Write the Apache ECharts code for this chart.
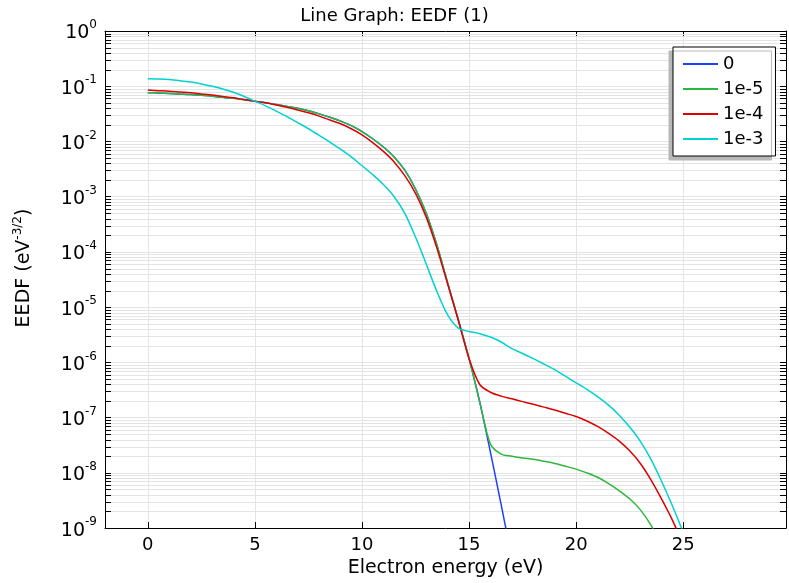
<!DOCTYPE html>
<html><head><meta charset="utf-8">
<script src="https://cdn.jsdelivr.net/npm/echarts@6/dist/echarts.min.js"></script>
<style>html,body{margin:0;padding:0;background:#fff}#c{width:789px;height:583px}</style>
</head><body><div id="c"></div>
<script>
// ---- data ----
const seriesNames = ['0', '1e-5', '1e-4', '1e-3'];
const seriesColors = ['#1f3fff', '#2db83d', '#dd0000', '#00d2d2'];

// shared energy grid (eV); each series uses as many points as it has values
const energy = [0,0.5,1,1.5,2,2.5,3,3.5,4,4.5,5,5.5,6,6.5,7,7.5,8,8.5,9,9.5,10,10.5,11,11.5,12,12.5,13,13.5,14,14.5,15,15.5,16,16.5,17,17.5,18,18.5,19,19.5,20,20.5,21,21.5,22,22.5,23,23.5,24,24.5,25,25.5];

const eedf0 = [0.0764,0.0755,0.0741,0.0724,0.0708,0.0684,0.0661,0.0631,0.0603,0.0569,0.0537,0.0501,0.0468,0.0432,0.0398,0.0359,0.0316,0.0275,0.0234,0.0193,0.0151,0.0112,7.94e-3,5.25e-3,3.02e-3,1.38e-3,5.01e-4,1.32e-4,2.75e-5,5.89e-6,1.17e-6,1.91e-7,2.34e-8,2.63e-9,2.82e-10];

const eedf1 = [0.0764,0.0755,0.0741,0.0724,0.0708,0.0684,0.0661,0.0631,0.0603,0.0569,0.0537,0.0501,0.0468,0.0432,0.0398,0.0359,0.0316,0.0275,0.0234,0.0193,0.0151,0.0112,7.94e-3,5.25e-3,3.02e-3,1.38e-3,5.01e-4,1.32e-4,2.75e-5,5.89e-6,1.17e-6,1.91e-7,3.31e-8,2.19e-8,2.00e-8,1.86e-8,1.76e-8,1.62e-8,1.48e-8,1.32e-8,1.17e-8,1.00e-8,8.32e-9,6.46e-9,4.79e-9,3.39e-9,2.14e-9,1.12e-9,4.47e-10];

const eedf2 = [0.0851,0.0832,0.0813,0.0785,0.0759,0.0724,0.0692,0.0653,0.0617,0.0575,0.0537,0.0501,0.0457,0.0417,0.0372,0.0331,0.0288,0.0245,0.0209,0.0170,0.0132,9.55e-3,6.61e-3,4.27e-3,2.40e-3,1.15e-3,4.27e-4,1.17e-4,2.63e-5,5.75e-6,1.17e-6,3.98e-7,2.88e-7,2.45e-7,2.19e-7,1.95e-7,1.74e-7,1.55e-7,1.38e-7,1.20e-7,1.05e-7,8.71e-8,6.92e-8,5.25e-8,3.80e-8,2.51e-8,1.48e-8,7.41e-9,3.31e-9,1.38e-9,5.01e-10];

const eedf3 = [0.136,0.135,0.132,0.126,0.119,0.110,0.100,0.0891,0.0776,0.0653,0.0537,0.0442,0.0355,0.0282,0.0219,0.0170,0.0129,9.77e-3,7.24e-3,5.25e-3,3.63e-3,2.51e-3,1.66e-3,1.00e-3,5.01e-4,1.86e-4,6.03e-5,1.91e-5,7.24e-6,4.17e-6,3.63e-6,3.31e-6,2.88e-6,2.34e-6,1.78e-6,1.45e-6,1.17e-6,9.33e-7,7.41e-7,5.62e-7,4.27e-7,3.24e-7,2.40e-7,1.70e-7,1.12e-7,6.76e-8,3.72e-8,1.74e-8,6.92e-9,2.51e-9,8.32e-10,2.51e-10];

const xTickLabels = ['0', '5', '10', '15', '20', '25'];
const yDecadeExponents = [0,-1,-2,-3,-4,-5,-6,-7,-8,-9];

const titleText = 'Line Graph: EEDF (1)';
const xName = 'Electron energy (eV)';

// ---- chart ----
const xMin = -2, xMax = 29.8, yMin = 1e-9, yMax = 1;
const FONT = 'DejaVu Sans';

const eedfs = [eedf0, eedf1, eedf2, eedf3];

// minor log gridline positions (2..9 x 10^n)
const minorVals = [];
for (let n = -9; n < 0; n++) for (let k = 2; k <= 9; k++) minorVals.push([xMin, k * Math.pow(10, n)]);

const chart = echarts.init(document.getElementById('c'), null, {renderer: 'canvas'});

const lineSeries = seriesNames.map((name, i) => ({
  name: name,
  type: 'line',
  data: eedfs[i].map((v, j) => [energy[j], v]),
  showSymbol: false,
  smooth: 0.3,
  lineStyle: {color: seriesColors[i], width: 1.5},
  itemStyle: {color: seriesColors[i]},
  z: 3,
  clip: true
}));

const minorSeries = {
  type: 'custom',
  silent: true,
  z: 1,
  clip: false,
  data: minorVals,
  renderItem: function (params, api) {
    const v = api.value(1);
    const p0 = api.coord([xMin, v]);
    const p1 = api.coord([xMax, v]);
    const y = Math.round(p0[1]) + 0.5;
    return {
      type: 'group',
      children: [
        {type: 'line', shape: {x1: p0[0], y1: y, x2: p1[0], y2: y}, style: {stroke: '#e4e4e4', lineWidth: 1}},
        {type: 'line', shape: {x1: p0[0], y1: y, x2: p0[0] + 6, y2: y}, style: {stroke: '#000', lineWidth: 1}},
        {type: 'line', shape: {x1: p1[0] - 6, y1: y, x2: p1[0], y2: y}, style: {stroke: '#000', lineWidth: 1}}
      ]
    };
  }
};

const option = {
  backgroundColor: '#fff',
  animation: false,
  title: {
    text: titleText, left: 'center', top: 7, padding: 0,
    textStyle: {fontFamily: FONT, fontSize: 18, fontWeight: 'normal', color: '#000'}
  },
  grid: {left: 105, right: 1, top: 31, bottom: 50, containLabel: false},
  legend: {
    data: seriesNames, orient: 'vertical', left: 673, top: 47,
    icon: 'rect', itemWidth: 35, itemHeight: 2, itemGap: 7,
    padding: [8, 12, 8, 10],
    backgroundColor: '#fff', borderColor: '#000', borderWidth: 1,
    shadowColor: '#b8b8b8', shadowBlur: 0, shadowOffsetX: -4, shadowOffsetY: 4,
    textStyle: {fontFamily: FONT, fontSize: 18, color: '#000', lineHeight: 18}
  },
  xAxis: [{
    type: 'value', min: xMin, max: xMax, position: 'bottom',
    name: xName, nameLocation: 'middle', nameGap: 25,
    nameTextStyle: {fontFamily: FONT, fontSize: 19, color: '#000'},
    axisLine: {show: true, onZero: false, lineStyle: {color: '#000', width: 1}},
    axisTick: {show: true, inside: true, length: 6, lineStyle: {color: '#000'}},
    axisLabel: {
      fontFamily: FONT, fontSize: 18, color: '#000', margin: 8,
      formatter: function (v) { const s = String(Math.round(v)); return (Math.abs(v % 5) < 1e-9 && xTickLabels.indexOf(s) >= 0) ? s : ''; }
    },
    splitLine: {show: true, lineStyle: {color: '#e4e4e4', width: 1}}
  }, {
    type: 'value', min: xMin, max: xMax, position: 'top',
    axisLine: {show: true, onZero: false, lineStyle: {color: '#000', width: 1}},
    axisTick: {show: true, inside: true, length: 6, lineStyle: {color: '#000'}},
    axisLabel: {show: false}, splitLine: {show: false}
  }],
  yAxis: [{
    type: 'log', logBase: 10, min: yMin, max: yMax, splitNumber: 9, position: 'left',
    axisLine: {show: true, onZero: false, lineStyle: {color: '#000', width: 1}},
    axisTick: {show: true, inside: true, length: 6, lineStyle: {color: '#000'}},
    axisLabel: {
      margin: 8,
      formatter: function (v) {
        const e = Math.round(Math.log10(v));
        if (yDecadeExponents.indexOf(e) < 0) return '';
        return '{b|10}{e|' + e + '}';
      },
      rich: {
        b: {fontFamily: FONT, fontSize: 19, color: '#000', lineHeight: 24, verticalAlign: 'bottom'},
        e: {fontFamily: FONT, fontSize: 12, color: '#000', lineHeight: 13, verticalAlign: 'top'}
      }
    },
    splitLine: {show: true, lineStyle: {color: '#e4e4e4', width: 1}}
  }, {
    type: 'log', logBase: 10, min: yMin, max: yMax, splitNumber: 9, position: 'right',
    axisLine: {show: true, onZero: false, lineStyle: {color: '#000', width: 1}},
    axisTick: {show: true, inside: true, length: 6, lineStyle: {color: '#000'}},
    axisLabel: {show: false}, splitLine: {show: false}
  }],
  graphic: [{
    type: 'text', x: 24, y: 268, rotation: Math.PI / 2,
    style: {
      text: 'EEDF (eV{s|-3/2})', fontFamily: FONT, fontSize: 19, fill: '#000',
      align: 'center', verticalAlign: 'middle', lineHeight: 24,
      rich: {s: {fontFamily: FONT, fontSize: 12, fill: '#000', lineHeight: 13, verticalAlign: 'top'}}
    }
  }],
  series: [minorSeries].concat(lineSeries)
};
chart.setOption(option);
</script></body></html>
